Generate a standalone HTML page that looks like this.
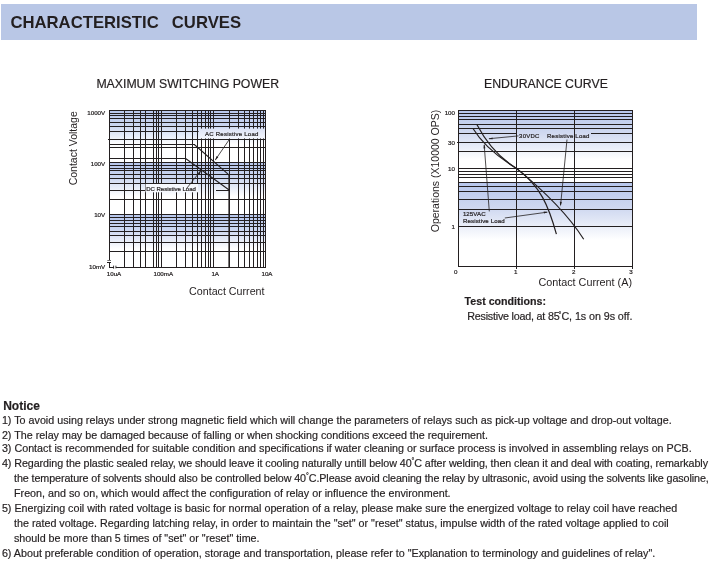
<!DOCTYPE html>
<html><head><meta charset="utf-8"><title>Characteristic Curves</title>
<style>
html,body{margin:0;padding:0;background:#fff;}
body{width:711px;height:568px;position:relative;overflow:hidden;font-family:"Liberation Sans",Arial,sans-serif;color:#231f20;-webkit-text-stroke:0.18px #231f20;}
.hdr{position:absolute;left:1px;top:4px;width:696px;height:36px;background:#b9c7e6;}
.hdr span{position:absolute;left:9.4px;top:8.5px;font-weight:bold;font-size:16.7px;line-height:20px;white-space:pre;word-spacing:1.9px;-webkit-text-stroke:0;}
.t{position:absolute;white-space:pre;line-height:1;}
.n{position:absolute;white-space:pre;font-size:10.74px;line-height:12px;left:1.9px;}
.n.i{left:14px;}
.dg{font-size:7px;position:relative;top:-3.6px;line-height:0;}
svg{position:absolute;left:0;top:0;}
svg text{font-family:"Liberation Sans",Arial,sans-serif;fill:#231f20;}
svg .s{stroke:#231f20;stroke-width:0.22px;}
</style></head><body>
<div class="hdr"><span>CHARACTERISTIC  CURVES</span></div>

<svg width="711" height="568" viewBox="0 0 711 568">
<defs>
<linearGradient id="g1" x1="0" y1="0" x2="0" y2="1"><stop offset="0" stop-color="#b6c6ec"/><stop offset="0.3" stop-color="#cbd6f0"/><stop offset="0.66" stop-color="#ffffff"/><stop offset="1" stop-color="#ffffff"/></linearGradient>
<linearGradient id="g2" x1="0" y1="0" x2="0" y2="1"><stop offset="0" stop-color="#b6c6ec"/><stop offset="0.45" stop-color="#cfd8f0"/><stop offset="1" stop-color="#ffffff"/></linearGradient>
<linearGradient id="g3" x1="0" y1="0" x2="0" y2="1"><stop offset="0" stop-color="#dde3f5"/><stop offset="1" stop-color="#f3f5fc"/></linearGradient>
</defs>
<rect x="109" y="110" width="156" height="52" fill="url(#g1)"/>
<rect x="109" y="162" width="156" height="52" fill="url(#g1)"/>
<rect x="109" y="214" width="156" height="53" fill="url(#g1)"/>
<g fill="#231f20" shape-rendering="crispEdges">
<rect x="124" y="110" width="1" height="158"/>
<rect x="133" y="110" width="1" height="158"/>
<rect x="140" y="110" width="1" height="158"/>
<rect x="145" y="110" width="1" height="158"/>
<rect x="153" y="110" width="1" height="158"/>
<rect x="156" y="110" width="1" height="158"/>
<rect x="158" y="110" width="1" height="158"/>
<rect x="161" y="110" width="1" height="158"/>
<rect x="176" y="110" width="1" height="158"/>
<rect x="185" y="110" width="1" height="158"/>
<rect x="192" y="110" width="1" height="158"/>
<rect x="197" y="110" width="1" height="158"/>
<rect x="201" y="110" width="1" height="158"/>
<rect x="205" y="110" width="1" height="158"/>
<rect x="208" y="110" width="1" height="158"/>
<rect x="210" y="110" width="1" height="158"/>
<rect x="213" y="110" width="1" height="158"/>
<rect x="229" y="110" width="1" height="158"/>
<rect x="238" y="110" width="1" height="158"/>
<rect x="244" y="110" width="1" height="158"/>
<rect x="249" y="110" width="1" height="158"/>
<rect x="253" y="110" width="1" height="158"/>
<rect x="257" y="110" width="1" height="158"/>
<rect x="260" y="110" width="1" height="158"/>
<rect x="263" y="110" width="1" height="158"/>
<rect x="265" y="110" width="1" height="158"/>
<rect x="109" y="110" width="157" height="1"/>
<rect x="109" y="113" width="157" height="1"/>
<rect x="109" y="115" width="157" height="1"/>
<rect x="109" y="118" width="157" height="1"/>
<rect x="109" y="122" width="157" height="1"/>
<rect x="109" y="126" width="157" height="1"/>
<rect x="109" y="131" width="157" height="1"/>
<rect x="109" y="147" width="157" height="1"/>
<rect x="109" y="162" width="157" height="1"/>
<rect x="109" y="165" width="157" height="1"/>
<rect x="109" y="168" width="157" height="1"/>
<rect x="109" y="170" width="157" height="1"/>
<rect x="109" y="174" width="157" height="1"/>
<rect x="109" y="178" width="157" height="1"/>
<rect x="109" y="183" width="157" height="1"/>
<rect x="109" y="199" width="157" height="1"/>
<rect x="109" y="214" width="157" height="1"/>
<rect x="109" y="217" width="157" height="1"/>
<rect x="109" y="220" width="157" height="1"/>
<rect x="109" y="223" width="157" height="1"/>
<rect x="109" y="226" width="157" height="1"/>
<rect x="109" y="231" width="157" height="1"/>
<rect x="109" y="235" width="157" height="1"/>
<rect x="109" y="242" width="157" height="1"/>
<rect x="109" y="251" width="157" height="1"/>
<rect x="108" y="139" width="158" height="1"/>
<rect x="109" y="190" width="38" height="1"/>
<rect x="216" y="190" width="14" height="1"/>
<rect x="109" y="110" width="1" height="150"/>
<rect x="107" y="262" width="4" height="1"/>
<rect x="109" y="262" width="1" height="6"/>
<rect x="109" y="267" width="5" height="1"/>
<rect x="116" y="267" width="150" height="1"/>
<rect x="109" y="144" width="86" height="1"/>
<rect x="109" y="158" width="77" height="1"/>
</g>
<rect x="228.4" y="175" width="0.8" height="93" fill="#231f20"/>
<path d="M113.6 265.6 V268.7 M115.9 265.7 V268.4" fill="none" stroke="#231f20" stroke-width="0.9"/><rect x="107.3" y="260.05" width="3.7" height="0.65" fill="#231f20"/>
<path d="M194.3 144.5 L229.5 175.4 M185.6 158.5 L229.5 190.3" fill="none" stroke="#231f20" stroke-width="1.05"/>
<rect x="198.6" y="128.6" width="66.4" height="9.8" fill="url(#g3)"/>
<text x="205" y="135.5" font-size="6" class="s" letter-spacing="0.25">AC Resistive Load</text>
<rect x="145.5" y="184" width="52.5" height="8.3" fill="#f6f8fd"/>
<text x="146.2" y="190.6" font-size="6" class="s">DC Resistive Load</text>
<path d="M229.5 139.2 L215.4 159.8 M186.5 188.6 L200.8 170.6" fill="none" stroke="#231f20" stroke-width="0.8"/>
<path d="M215.1 160.4 L216.6 156 L218.3 157.2 Z M201.2 170 L199.7 174.4 L198 173.3 Z" fill="#231f20"/>
<text x="105.2" y="115.05000000000001" font-size="6.2" class="s" text-anchor="end">1000V</text>
<text x="105.2" y="165.55" font-size="6.2" class="s" text-anchor="end">100V</text>
<text x="105.2" y="216.85" font-size="6.2" class="s" text-anchor="end">10V</text>
<text x="105.2" y="268.75" font-size="6.2" class="s" text-anchor="end">10mV</text>
<text x="114" y="275.9" font-size="6.2" class="s" text-anchor="middle">10uA</text>
<text x="163.3" y="275.9" font-size="6.2" class="s" text-anchor="middle">100mA</text>
<text x="215.2" y="275.9" font-size="6.2" class="s" text-anchor="middle">1A</text>
<text x="267" y="275.9" font-size="6.2" class="s" text-anchor="middle">10A</text>
<text transform="translate(77,148.3) rotate(-90)" font-size="10.5" text-anchor="middle">Contact Voltage</text>
<text x="226.8" y="295" font-size="10.7" text-anchor="middle">Contact Current</text>
<rect x="458" y="110" width="174" height="50" fill="url(#g2)"/>
<rect x="458" y="182" width="174" height="58" fill="url(#g2)"/>
<g fill="#231f20" shape-rendering="crispEdges">
<rect x="458" y="110" width="175" height="1"/>
<rect x="458" y="113" width="175" height="1"/>
<rect x="458" y="116" width="175" height="1"/>
<rect x="458" y="119" width="175" height="1"/>
<rect x="458" y="124" width="175" height="1"/>
<rect x="458" y="128" width="175" height="1"/>
<rect x="458" y="151" width="175" height="1"/>
<rect x="458" y="168" width="175" height="1"/>
<rect x="458" y="171" width="175" height="1"/>
<rect x="458" y="174" width="175" height="1"/>
<rect x="458" y="177" width="175" height="1"/>
<rect x="458" y="182" width="175" height="1"/>
<rect x="458" y="186" width="175" height="1"/>
<rect x="458" y="191" width="175" height="1"/>
<rect x="458" y="199" width="175" height="1"/>
<rect x="458" y="209" width="175" height="1"/>
<rect x="458" y="226" width="175" height="1"/>
<rect x="458" y="266" width="175" height="1"/>
<rect x="457" y="142" width="176" height="1"/>
<rect x="458" y="133" width="59" height="1"/>
<rect x="591" y="133" width="42" height="1"/>
</g>
<g fill="#231f20" shape-rendering="crispEdges">
<rect x="458" y="110" width="1" height="157"/>
<rect x="516" y="110" width="1" height="159"/>
<rect x="574" y="110" width="1" height="159"/>
<rect x="632" y="110" width="1" height="159"/>
</g>
<text y="137.7" font-size="6" class="s" letter-spacing="0.25"><tspan x="519.1">30VDC</tspan><tspan x="545.1"> Resistive</tspan><tspan x="573.4"> Load</tspan></text>
<text x="462.9" y="216.2" font-size="6.1" class="s" letter-spacing="0.08">125VAC</text>
<text x="462.9" y="223.3" font-size="6.1" class="s" letter-spacing="0.14">Resistive Load</text>
<path d="M477 124.8 C486.7 143.4 498.5 157.4 516.5 168.4 C541.8 189 566 211.5 583.7 239.2" fill="none" stroke="#231f20" stroke-width="1.2"/>
<path d="M472.8 128.3 C483.3 145.6 499.5 158.1 516.5 168.4 C540.3 185.3 548.9 206.8 556.4 234.2" fill="none" stroke="#231f20" stroke-width="1.2"/>
<path d="M518.5 135.9 L489 138.7 M567 139.5 L560.6 205 M489.3 211.4 L484.2 145 M504.8 218 L547 212.2" fill="none" stroke="#231f20" stroke-width="0.8"/>
<path d="M488.2 138.9 L492.5 137.4 L492.7 139.3 Z M560.4 206.5 L559.8 201.8 L561.8 202 Z M484.1 143.8 L483.5 148.5 L485.4 148.3 Z M548.2 212 L543.7 211.6 L544 213.6 Z" fill="#231f20"/>
<text x="455" y="114.55000000000001" font-size="6.2" class="s" text-anchor="end">100</text>
<text x="455" y="144.65" font-size="6.2" class="s" text-anchor="end">30</text>
<text x="455" y="170.75" font-size="6.2" class="s" text-anchor="end">10</text>
<text x="455" y="228.75" font-size="6.2" class="s" text-anchor="end">1</text>
<text x="455.7" y="273.6" font-size="6.2" class="s" text-anchor="middle">0</text>
<text x="515.8" y="273.6" font-size="6.2" class="s" text-anchor="middle">1</text>
<text x="573.7" y="273.6" font-size="6.2" class="s" text-anchor="middle">2</text>
<text x="630.9" y="273.6" font-size="6.2" class="s" text-anchor="middle">3</text>
<text transform="translate(438.7,171) rotate(-90)" font-size="10.5" text-anchor="middle">Operations (X10000 OPS)</text>
<text x="632" y="286" font-size="10.8" text-anchor="end">Contact Current (A)</text>
</svg>
<div class="t" style="left:96.4px;top:77.9px;font-size:12.27px;">MAXIMUM SWITCHING POWER</div>
<div class="t" style="left:484px;top:77.9px;font-size:12.27px;">ENDURANCE CURVE</div>
<div class="t" style="left:464.6px;top:295.9px;font-size:10.65px;font-weight:bold;">Test conditions:</div>
<div class="t" style="left:467.2px;top:311.1px;font-size:10.74px;letter-spacing:-0.21px;">Resistive load, at 85</div>
<div class="t" style="left:558.6px;top:311.1px;font-size:10.74px;"><span class="dg">°</span><span style="letter-spacing:-0.07px">C, 1s on 9s off.</span></div>
<div class="t" style="left:3.2px;top:400.1px;font-size:12px;font-weight:bold;">Notice</div>
<div class="n" id="L0" style="top:413.95px;">1) To avoid using relays under strong magnetic field which will change the parameters of relays such as pick-up voltage and drop-out voltage.</div>
<div class="n" id="L1" style="top:428.90px;">2) The relay may be damaged because of falling or when shocking conditions exceed the requirement.</div>
<div class="n" id="L2" style="top:442.05px;">3) Contact is recommended for suitable condition and specifications if water cleaning or surface process is involved in assembling relays on PCB.</div>
<div class="n" id="L3" style="top:456.55px;letter-spacing:-0.073px;">4) Regarding the plastic sealed relay, we should leave it cooling naturally untill below 40<span class="dg">°</span>C after welding, then clean it and deal with coating, remarkably</div>
<div class="n i" id="L4" style="top:471.85px;letter-spacing:-0.093px;">the temperature of solvents should also be controlled below 40<span class="dg">°</span>C.Please avoid cleaning the relay by ultrasonic, avoid using the solvents like gasoline,</div>
<div class="n i" id="L5" style="top:486.55px;">Freon, and so on, which would affect the configuration of relay or influence the environment.</div>
<div class="n" id="L6" style="top:501.65px;">5) Energizing coil with rated voltage is basic for normal operation of a relay, please make sure the energized voltage to relay coil have reached</div>
<div class="n i" id="L7" style="top:516.95px;">the rated voltage. Regarding latching relay, in order to maintain the "set" or "reset" status, impulse width of the rated voltage applied to coil</div>
<div class="n i" id="L8" style="top:532.05px;">should be more than 5 times of "set" or "reset" time.</div>
<div class="n" id="L9" style="top:546.75px;">6) About preferable condition of operation, storage and transportation, please refer to "Explanation to terminology and guidelines of relay".</div>
</body></html>
